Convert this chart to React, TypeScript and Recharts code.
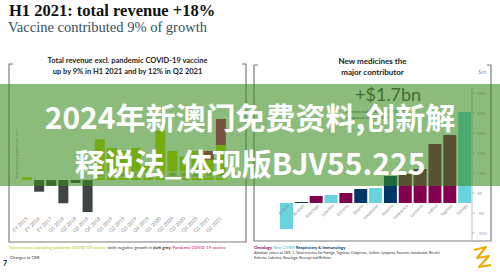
import React from "react";
import { BarChart, Bar, XAxis, YAxis, Cell, LabelList } from "recharts";

// ─── Left panel: quarterly revenue growth (%) ─────────────
const periods = [
  "FY 2015", "FY 2016", "FY 2017", "Q1 2018", "Q2 2018", "Q3 2018",
  "Q4 2018", "Q1 2019", "Q2 2019", "Q3 2019", "Q4 2019",
  "Q1 2020", "Q2 2020", "Q3 2020", "Q4 2020", "Q1 2021", "Q2 2021",
];
const growthExVaccine = [1, -4, -2, -8, -1, -11, 14, 11, 10, 11, 5, 17, 10, 8, 10, 7, 12];
const vaccineGrowth = [0, 0, 0, 0, 0, 0, 0, 0, 0, 0, 0, 0, 0, 0, 0, 3, 9];
const growthLabels = ["", "", "", "", "", "", "14%", "11%", "10%", "11%", "5%", "17%", "10%", "8%", "10%", "7%", "12%"];
const growthDomain = [-12, 22];

// ─── Right panel: new medicines, absolute growth ($m) ─────
const products = [
  "Brilinta", "Bevespi", "Koselugo", "Lokelma", "Enhertu", "Breztri", "roxadustat",
  "Fasenra", "Calquence", "Lynparza", "Imfinzi", "Tagrisso", "Farxiga",
];
const productGrowth = [-130, 5, 35, 40, 50, 70, 75, 135, 145, 170, 295, 340, 455];
const productArea = ["cvrm", "ri", "onc", "cvrm", "onc", "ri", "cvrm", "ri", "onc", "onc", "onc", "onc", "cvrm"];
const valueTicks = [-150, -50, 50, 150, 250, 350, 450, 550];
const valueDomain = [-185, 575];

const LIME = "#C4D600";
const GRAPHITE = "#3F4444";
const MAGENTA = "#D0006F";
const AREA_COLORS: Record<string, string> = { onc: "#830051", cvrm: "#68D2DF", ri: "#003865" };
const SANS = "Lato, 'Open Sans', sans-serif";

const leftData = periods.map((period, i) => ({
  period,
  exVaccine: growthExVaccine[i],
  vaccine: vaccineGrowth[i] || null,
  label: growthLabels[i],
}));

const rightData = products.map((name, i) => ({ name, growth: productGrowth[i], area: productArea[i] }));

function box(props: any) {
  const vb = props.viewBox || props;
  return { x: vb.x ?? props.x, y: vb.y ?? props.y, w: vb.width ?? props.width, h: vb.height ?? props.height };
}

function PeriodTick({ x, y, payload }: any) {
  const ax = x + 1;
  const ay = y + 4;
  return (
    <text x={ax} y={ay} transform={`rotate(-45 ${ax} ${ay})`} textAnchor="end" fontSize={5} fill="#8a8a8a" fontFamily={SANS}>
      {payload.value}
    </text>
  );
}

function GrowthBox(props: any) {
  const label = props.value;
  if (!label) return null;
  const { x, y, w, h } = box(props);
  const base = h >= 0 ? y + h : y;
  return (
    <g>
      <rect x={x + 0.6} y={base - 8.5} width={w - 1.2} height={6} fill="#dbe77a" stroke="#f4f8d8" strokeWidth={0.5} />
      <text x={x + w / 2} y={base - 4.2} fontSize={3.6} fill="#5a5a5a" textAnchor="middle" fontFamily={SANS}>
        {label}
      </text>
    </g>
  );
}

function ProductLabel(props: any) {
  const { x, y, w, h } = box(props);
  const i = products.indexOf(props.value);
  const negative = i >= 0 && productGrowth[i] < 0;
  const base = negative && h > 0 ? y : y + h;
  const ax = x + w / 2 + 3;
  const ay = base + 3;
  return (
    <text x={ax} y={ay} transform={`rotate(-45 ${ax} ${ay})`} textAnchor="end" fontSize={4.2} fill="#8a8a8a" fontFamily={SANS}>
      {props.value}
    </text>
  );
}

export default function App() {
  return (
    <div style={{ position: "absolute", left: 0, top: 0, width: 500, height: 273, background: "#fff", overflow: "hidden", fontFamily: SANS }}>
      {/* Title */}
      <div style={{ position: "absolute", left: 9, top: 1, fontFamily: "'Liberation Serif', serif", fontWeight: 700, fontSize: 16.5, color: "#111", whiteSpace: "nowrap" }}>
        H1 2021: total revenue +18%
      </div>
      <div style={{ position: "absolute", left: 8, top: 19, fontFamily: "'Liberation Serif', serif", fontSize: 14.5, color: "#34505f", whiteSpace: "nowrap" }}>
        Vaccine contributed 9% of growth
      </div>

      {/* Panel frames */}
      <svg width={500} height={273} style={{ position: "absolute", left: 0, top: 0 }}>
        <path d="M13 64 H9 V242 H246 V64 H242" fill="none" stroke="#7d7d7d" strokeWidth={1.2} />
        <path d="M258 65 H254 V241 H491 V65 H487" fill="none" stroke="#7d7d7d" strokeWidth={1.2} />
        <path d="M474 250 L486 247 L477 258 L489 256 L479 267 L491 265" fill="none" stroke="#F0AB00" strokeWidth={2} strokeLinejoin="round" />
      </svg>

      {/* Panel headings */}
      <div style={{ position: "absolute", left: 8, top: 56, width: 239, textAlign: "center", fontSize: 7.5, fontWeight: 700, lineHeight: "10.5px", color: "#222" }}>
        Total revenue excl. pandemic COVID-19 vaccine
        <br />
        up by 9% in H1 2021 and by 12% in Q2 2021
      </div>
      <div style={{ position: "absolute", left: 254, top: 56, width: 237, textAlign: "center", fontSize: 8, fontWeight: 700, lineHeight: "10.5px", color: "#222" }}>
        New medicines the
        <br />
        major contributor
      </div>

      {/* Left chart */}
      <div style={{ position: "absolute", left: 14, top: 158, transform: "rotate(-90deg)", transformOrigin: "0 0", fontSize: 3.8, color: "#8a8a8a", whiteSpace: "nowrap", marginLeft: 0 }}>
        <span style={{ position: "relative", left: -22 }}>Total revenue growth, per cent</span>
      </div>
      <div style={{ position: "absolute", left: 0, top: 110 }}>
        <BarChart width={250} height={135} data={leftData} margin={{ top: 6, right: 23, bottom: 0, left: 21 }} stackOffset="sign" barCategoryGap={1}>
          <XAxis dataKey="period" interval={0} height={30} tickLine={false} axisLine={false} tickSize={0} tickMargin={0} tick={<PeriodTick />} />
          <YAxis hide type="number" domain={growthDomain} allowDataOverflow />
          <Bar dataKey="exVaccine" stackId="a" isAnimationActive={false}>
            {leftData.map((d, i) => (
              <Cell key={i} fill={d.exVaccine < 0 ? GRAPHITE : LIME} />
            ))}
            <LabelList dataKey="label" content={GrowthBox} />
          </Bar>
          <Bar dataKey="vaccine" stackId="a" fill={MAGENTA} isAnimationActive={false} />
        </BarChart>
      </div>

      {/* Right chart */}
      <div style={{ position: "absolute", left: 478, top: 68, fontSize: 6, color: "#9a9a9a" }}>$m</div>
      <div style={{ position: "absolute", left: 250, top: 80 }}>
        <BarChart width={245} height={165} data={rightData} margin={{ top: 8, right: 8, bottom: 5, left: 29 }} barCategoryGap={1}>
          <XAxis dataKey="name" hide />
          <YAxis
            orientation="right"
            width={15}
            type="number"
            domain={valueDomain}
            ticks={valueTicks}
            interval={0}
            allowDataOverflow
            tickSize={3}
            tickMargin={2}
            axisLine={{ stroke: "#bdbdbd" }}
            tickLine={{ stroke: "#bdbdbd" }}
            tick={{ fontSize: 4.5, fill: "#9a9a9a", fontFamily: SANS }}
          />
          <Bar dataKey="growth" isAnimationActive={false}>
            {rightData.map((d, i) => (
              <Cell key={i} fill={AREA_COLORS[d.area]} />
            ))}
            <LabelList dataKey="name" content={ProductLabel} />
          </Bar>
        </BarChart>
      </div>
      <div style={{ position: "absolute", left: 355, top: 85, fontSize: 18, lineHeight: "18px", color: GRAPHITE, whiteSpace: "nowrap" }}>+$1.7bn</div>
      <div style={{ position: "absolute", left: 345, top: 109, fontSize: 4.5, lineHeight: "5.5px", color: GRAPHITE, whiteSpace: "nowrap" }}>
        Incremental revenue in H1 2021
        <br />
        compared to H1 2020¹
      </div>

      {/* Footers */}
      <div style={{ position: "absolute", left: 9, top: 244.5, fontSize: 4.2, whiteSpace: "nowrap", color: "#333" }}>
        <span style={{ color: "#b8c800" }}>Total revenue excluding pandemic COVID-19 vaccine</span> (with negative growth in <b>dark grey</b>) <span style={{ color: MAGENTA }}>Pandemic COVID-19 vaccine</span>
      </div>
      <div style={{ position: "absolute", left: 10, top: 255, fontSize: 4.2, color: "#333" }}>Changes at CER.</div>
      <div style={{ position: "absolute", left: 3, top: 259, fontSize: 7, fontWeight: 700, color: "#111" }}>7</div>
      <div style={{ position: "absolute", left: 254, top: 244.5, fontSize: 4.2, whiteSpace: "nowrap", fontWeight: 700 }}>
        <span style={{ color: "#830051" }}>Oncology</span> <span style={{ color: "#68D2DF" }}>New CVRM</span> <span style={{ color: "#003865" }}>Respiratory &amp; Immunology</span>
      </div>
      <div style={{ position: "absolute", left: 254, top: 250, fontSize: 3.6, lineHeight: "5px", whiteSpace: "nowrap", color: "#333" }}>
        Absolute values at CER. 1. Total revenue for Farxiga, Tagrisso, Calquence, Imfinzi, Lynparza, Fasenra, roxadustat, Breztri,
        <br />
        Enhertu, Lokelma, Koselugo, Bevespi and Brilinta.
      </div>

      {/* Watermark band */}
      <div style={{ position: "absolute", left: 0, top: 84, width: 500, height: 102, background: "rgba(56,140,30,0.58)" }} />
      <div style={{ position: "absolute", left: 0, top: 93, width: 500, textAlign: "center", fontFamily: "'Noto Sans CJK SC', sans-serif", fontWeight: 700, fontSize: 30, lineHeight: "46px", color: "#fff", whiteSpace: "nowrap" }}>
        2024年新澳门免费资料,创新解
        <br />
        释说法_体现版BJV55.225
      </div>
    </div>
  );
}
